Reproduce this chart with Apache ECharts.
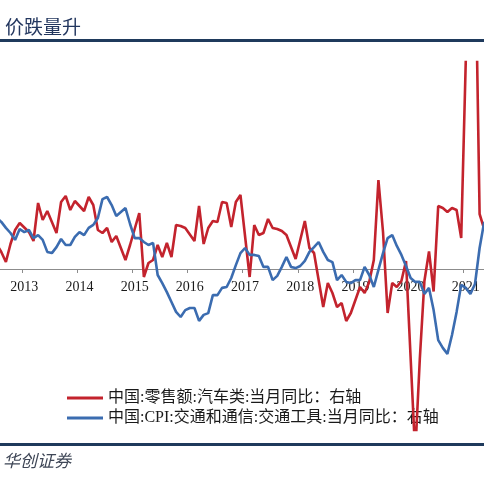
<!DOCTYPE html>
<html>
<head>
<meta charset="utf-8">
<script src="https://cdn.jsdelivr.net/npm/echarts@6/dist/echarts.min.js"></script>
<style>
html,body{margin:0;padding:0;background:#fff;}
#chart{width:484px;height:485px;}
</style>
</head>
<body>
<div id="chart"></div>
<script>
// Monthly categories: 2012-07 .. 2021-05 (points sit mid-month; year ticks at Jan boundaries)
const startYear = 2012, startMonth = 7, endYear = 2021, endMonth = 5;
const months = [];
for (let y = startYear, m = startMonth; y < endYear || (y === endYear && m <= endMonth); ) {
  months.push(y + '-' + String(m).padStart(2, '0'));
  m++; if (m > 12) { m = 1; y++; }
}

const seriesNames = ['中国:零售额:汽车类:当月同比：右轴', '中国:CPI:交通和通信:交通工具:当月同比：右轴'];

// 中国:零售额:汽车类:当月同比 (%), January merged into Jan-Feb (null)
const autoRetailYoY = [
  5.0, 3.4, 1.4, 5.0, 7.8, 9.2,
  null, 7.4, 5.6, 13.2, 9.8, 11.6, 9.4, 7.2, 13.4, 14.6, 11.8, 13.6,
  null, 11.6, 14.4, 12.8, 7.8, 7.2, 8.2, 5.4, 6.6, 4.2, 1.8, 4.8,
  null, 11.2, -1.6, 1.2, 1.8, 4.8, 2.4, 5.2, 2.4, 8.8, 8.6, 8.2,
  null, 5.6, 12.6, 5.0, 8.2, 9.6, 9.4, 13.4, 13.2, 8.4, 13.4, 14.8,
  null, -1.6, 8.8, 6.8, 7.2, 10.0, 8.2, 8.0, 7.6, 6.8, 4.4, 2.0,
  null, 9.6, 4.2, 3.2, -2.2, -7.6, -2.8, -4.8, -7.6, -6.8, -10.4, -8.8,
  null, -3.6, -4.8, -2.6, 1.8, 17.8, 7.4, -8.8, -2.8, -3.6, -2.4, 1.6,
  null, -37.0, -18.0, -2.4, 3.5, -4.5, 12.6, 12.2, 11.4, 12.2, 11.8, 6.2,
  null, 77.6, 68.0, 11.0, 8.0
];

// 中国:CPI:交通和通信:交通工具:当月同比 (%)
const transportCpiYoY = [
  1.70, 1.57, 1.37, 1.20, 0.97, 1.33,
  1.23, 1.30, 1.03, 1.13, 0.97, 0.57, 0.53, 0.73, 1.00, 0.80, 0.80, 1.07,
  1.23, 1.13, 1.37, 1.47, 1.70, 2.33, 2.40, 2.13, 1.77, 1.90, 2.03, 1.50,
  1.03, 1.03, 0.90, 0.80, 0.87, -0.20, -0.47, -0.77, -1.10, -1.43, -1.60, -1.37,
  -1.30, -1.30, -1.73, -1.53, -1.47, -0.87, -0.87, -0.63, -0.60, -0.30, 0.13, 0.53,
  0.70, 0.47, 0.47, 0.43, 0.07, 0.07, -0.37, -0.23, 0.07, 0.40, 0.07, 0.03,
  0.10, 0.27, 0.57, 0.73, 0.90, 0.57, 0.30, 0.23, -0.37, -0.20, -0.43, -0.47,
  -0.37, -0.37, 0.07, -0.20, -0.60, -0.03, 0.53, 1.03, 1.13, 0.77, 0.47, 0.10,
  -0.30, -0.43, -0.43, -0.83, -0.63, -1.37, -2.37, -2.63, -2.83, -2.20, -1.43, -0.53,
  -0.63, -0.83, -0.50, 0.70, 1.57
];

// hidden value ranges (zero lines of both series coincide)
const retailRange = [-32.2, 41.4];
const cpiRange = [-5.3667, 6.9];

const redColor = '#c3232d';
const blueColor = '#3b6cb0';
const navy = '#1f3a5c';

const gridTop = 62, gridBottom = 55, chartH = 485;
const plotH = chartH - gridTop - gridBottom;
// place the category axis on the zero level of the value axes
const zeroOffset = -plotH * (0 - retailRange[0]) / (retailRange[1] - retailRange[0]);

const isJan = (idx, val) => String(val).slice(5) === '01';

const hiddenAxisParts = {
  axisLine: {show: false}, axisTick: {show: false}, axisLabel: {show: false}, splitLine: {show: false}
};

const chart = echarts.init(document.getElementById('chart'), null, {renderer: 'canvas'});
chart.setOption({
  animation: false,
  backgroundColor: '#fff',
  title: {
    text: '价跌量升',
    left: 0, top: 12,
    textStyle: {fontSize: 19, fontWeight: 'normal', color: '#22365e', fontFamily: 'Noto Sans CJK SC'}
  },
  graphic: [
    {type: 'rect', left: 0, top: 39, shape: {width: 484, height: 3}, style: {fill: navy}, silent: true},
    {type: 'rect', left: 0, top: 443, shape: {width: 484, height: 3}, style: {fill: navy}, silent: true},
    {type: 'text', left: 3, top: 452, style: {text: '华创证券', fontSize: 17, fontStyle: 'italic', fill: '#3e4656', fontFamily: 'Noto Sans CJK SC'}, silent: true}
  ],
  legend: {
    orient: 'vertical',
    left: 62, top: 383,
    z: 1,
    icon: 'rect',
    itemWidth: 36, itemHeight: 3, itemGap: 0,
    textStyle: {fontSize: 16, lineHeight: 20, color: '#1a1a1a', fontFamily: "'Liberation Serif','Noto Sans CJK SC'"},
    data: seriesNames
  },
  grid: {
    left: -5.6, width: 492.1, top: gridTop, bottom: gridBottom,
    containLabel: false, outerBoundsMode: 'none'
  },
  xAxis: {
    type: 'category',
    data: months,
    boundaryGap: true,
    position: 'bottom',
    offset: zeroOffset,
    axisLine: {show: true, onZero: false, lineStyle: {color: '#8c8c8c', width: 1}},
    axisTick: {show: true, interval: isJan, length: 4, inside: false, lineStyle: {color: '#8c8c8c'}},
    axisLabel: {
      interval: isJan,
      formatter: v => v.slice(0, 4),
      fontSize: 14, color: '#1a1a1a', margin: 11,
      fontFamily: "'Liberation Serif'"
    },
    splitLine: {show: false}
  },
  yAxis: [
    Object.assign({type: 'value', position: 'right', min: retailRange[0], max: retailRange[1]}, hiddenAxisParts),
    Object.assign({type: 'value', position: 'right', min: cpiRange[0], max: cpiRange[1]}, hiddenAxisParts)
  ],
  series: [
    {
      name: seriesNames[0], type: 'line', yAxisIndex: 0, data: autoRetailYoY,
      connectNulls: true, symbol: 'none', clip: true, z: 3,
      lineStyle: {color: redColor, width: 2.6}, itemStyle: {color: redColor}
    },
    {
      name: seriesNames[1], type: 'line', yAxisIndex: 1, data: transportCpiYoY,
      symbol: 'none', clip: true, z: 4,
      lineStyle: {color: blueColor, width: 2.6}, itemStyle: {color: blueColor}
    }
  ]
});
</script>
</body>
</html>
